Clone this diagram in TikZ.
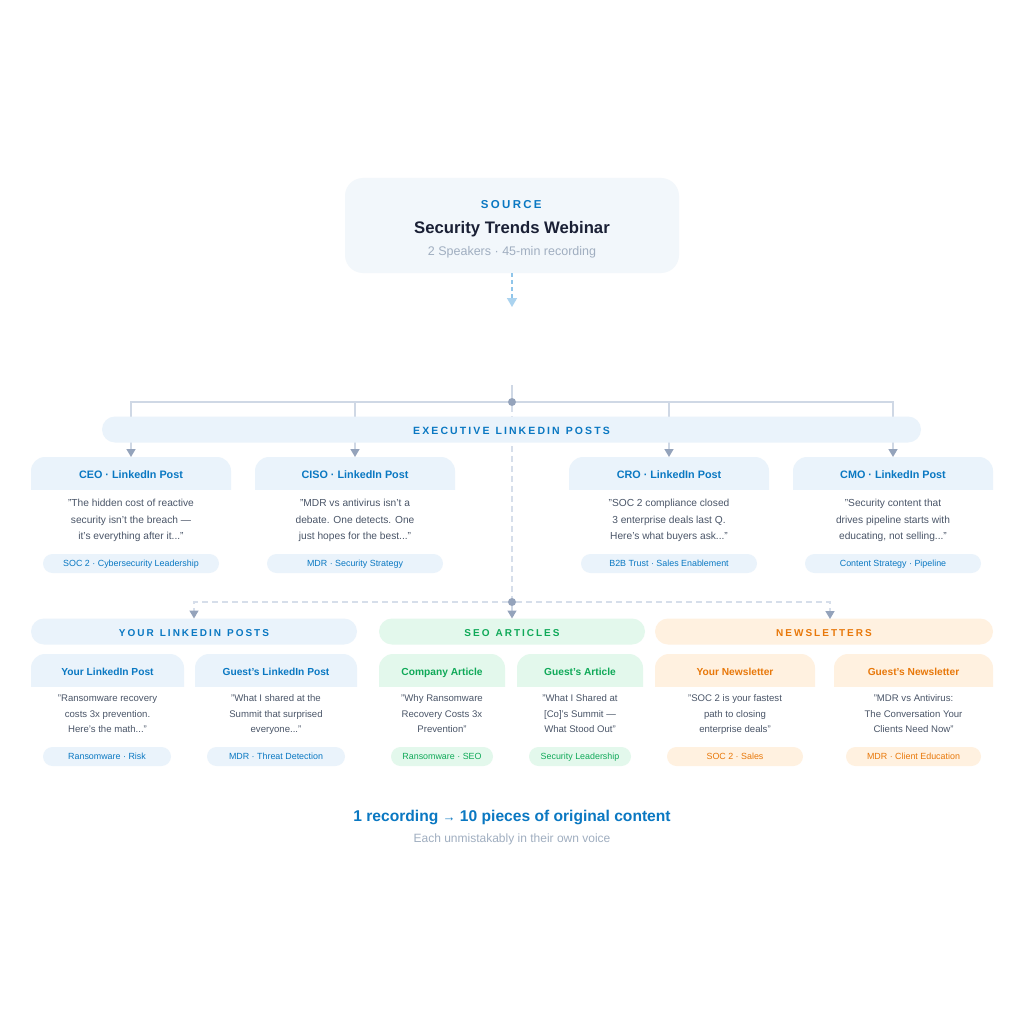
\documentclass[tikz,border=0pt]{standalone}
\usepackage{fontspec}
\setmainfont{Liberation Sans}
\newfontfamily\spaced[LetterSpace=20]{Liberation Sans}
\usetikzlibrary{arrows.meta}
\definecolor{cblue}{HTML}{0A78C2}
\definecolor{cbluebg}{HTML}{EAF3FB}
\definecolor{cgreen}{HTML}{0FA958}
\definecolor{cgreenbg}{HTML}{E3F8EC}
\definecolor{corange}{HTML}{E8780A}
\definecolor{corangebg}{HTML}{FFF1E0}
\definecolor{csrc}{HTML}{F2F7FB}
\definecolor{cdark}{HTML}{1A2035}
\definecolor{cmuted}{HTML}{A0AEC0}
\definecolor{cbody}{HTML}{4A5568}
\definecolor{cline}{HTML}{CFD8E5}
\definecolor{cdash}{HTML}{D6DEEA}
\definecolor{ctip}{HTML}{94A3BB}
\definecolor{csrcline}{HTML}{8FC5EA}
\pgfdeclarelayer{back}
\pgfsetlayers{back,main}
\newcommand{\wsp}{\hspace{6pt}}
\tikzset{
  x=1pt,y=-1pt,
  basetext/.style={inner sep=0pt,outer sep=0pt,align=center},
  band/.style={basetext,rounded corners=13pt,minimum height=26pt,text height=10pt,text depth=0pt,font=\fontsize{10.5}{13}\selectfont\spaced\bfseries},
  sectionband/.style={band,font=\fontsize{10}{13}\selectfont\spaced\bfseries},
  title/.style={basetext,text height=8pt,text depth=2pt},
  bodytext/.style={basetext,anchor=north,text=cbody},
  tagpill/.style={basetext,rounded corners=9.5pt,minimum height=19pt,text height=7pt,text depth=2pt,font=\fontsize{8.9}{11}\selectfont},
  solidlink/.style={draw=cline,line width=1.5pt},
  dashlink/.style={draw=cdash,line width=1.5pt,dash pattern=on 6pt off 4pt},
  tipped/.style={-{Triangle[length=8pt,width=9pt,color=ctip]}},
  hubdot/.style={circle,fill=ctip,inner sep=0pt,minimum size=8pt},
}
\newcommand{\mycard}[8]{%
  % name, x1, x2, title, body, tag x1, tag x2, tag
  \fill[\cbg,rounded corners=14pt] (#2,\htop) rectangle (#3,\hbot+16);
  \fill[white] (#2-0.5,\hbot) rectangle (#3+0.5,\hbot+17);
  \fill[\cbg] (#2,\htop+15) rectangle (#3,\hbot);
  \node[title,text=\cfg,font=\titlefont] (#1) at ({(#2+#3)/2},\htxt) {#4};
  \coordinate (#1top) at ({(#2+#3)/2},\htop);
  \node[bodytext,font=\bodyfont] (#1body) at ({(#2+#3)/2},\bodyy) {\rule{0pt}{10pt}#5};
  \pgfmathsetlengthmacro{\tagw}{(#7-#6)*1pt}
  \node[tagpill,fill=\cbg,text=\cfg,minimum width=\tagw] (#1tag) at ({(#6+#7)/2},\tagy) {#8};
}
\begin{document}
\begin{tikzpicture}
\useasboundingbox (0,0) rectangle (1024,1024);
\begin{pgfonlayer}{back}
\fill[white] (0,0) rectangle (1024,1024);
\end{pgfonlayer}

% source
\node[basetext,fill=csrc,rounded corners=18pt,minimum width=334pt,minimum height=95pt] (source) at (512,225.5) {};
\node[basetext,text=cblue,font=\fontsize{11.5}{14}\selectfont\spaced\bfseries] (srclabel) at (511.3,204.5) {SOURCE};
\node[basetext,text=cdark,font=\fontsize{16.7}{21}\selectfont\bfseries] (srctitle) at (512,229.4) {Security Trends Webinar};
\node[basetext,text=cmuted,font=\fontsize{12.5}{15}\selectfont] (srcsub) at (512,252) {2 Speakers · 45-min recording};
\coordinate (srcend) at (512,307);
\draw[draw=csrcline,line width=1.5pt,dash pattern=on 4pt off 3pt,-{Triangle[length=9pt,width=10pt,color=csrcline!75]}] (source.south) -- (srcend);

% executive band
\node[band,fill=cbluebg,text=cblue,minimum width=819pt] (execband) at (511.5,429.5) {EXECUTIVE\wsp LINKEDIN\wsp POSTS};

% executive cards
\def\htop{457}\def\hbot{490}\def\htxt{475}\def\bodyy{496.5}\def\tagy{563.5}
\def\bodyfont{\fontsize{10.2}{16.5}\selectfont}
\def\titlefont{\fontsize{10.8}{13}\selectfont\bfseries}
\def\cbg{cbluebg}\def\cfg{cblue}
\mycard{ceo}{31}{231}{CEO · LinkedIn Post}{"The hidden cost of reactive\\security isn't the breach —\\it's everything after it..."}{43}{219}{SOC 2 · Cybersecurity Leadership}
\mycard{ciso}{255}{455}{CISO · LinkedIn Post}{"MDR vs antivirus isn't a\\debate. One detects. One\\just hopes for the best..."}{267}{443}{MDR · Security Strategy}
\mycard{cro}{569}{769}{CRO · LinkedIn Post}{"SOC 2 compliance closed\\3 enterprise deals last Q.\\Here's what buyers ask..."}{581}{757}{B2B Trust · Sales Enablement}
\mycard{cmo}{793}{993}{CMO · LinkedIn Post}{"Security content that\\drives pipeline starts with\\educating, not selling..."}{805}{981}{Content Strategy · Pipeline}

% section bands
\node[sectionband,fill=cbluebg,text=cblue,minimum width=326pt] (yourband) at (194,631.5) {YOUR\wsp LINKEDIN\wsp POSTS};
\node[sectionband,fill=cgreenbg,text=cgreen,minimum width=266pt] (seoband) at (512,631.5) {SEO\wsp ARTICLES};
\node[sectionband,fill=corangebg,text=corange,minimum width=338pt] (newsband) at (824,631.5) {NEWSLETTERS};

% lower cards
\def\htop{654}\def\hbot{687}\def\htxt{672}\def\bodyy{691.5}\def\tagy{756.5}
\def\bodyfont{\fontsize{9.6}{15.5}\selectfont}
\def\titlefont{\fontsize{10.2}{13}\selectfont\bfseries}
\def\cbg{cbluebg}\def\cfg{cblue}
\mycard{yourpost}{31}{184}{Your LinkedIn Post}{"Ransomware recovery\\costs 3x prevention.\\Here's the math..."}{43}{171}{Ransomware · Risk}
\mycard{guestpost}{195}{357}{Guest's LinkedIn Post}{"What I shared at the\\Summit that surprised\\everyone..."}{207}{345}{MDR · Threat Detection}
\def\cbg{cgreenbg}\def\cfg{cgreen}
\mycard{company}{379}{505}{Company Article}{"Why Ransomware\\Recovery Costs 3x\\Prevention"}{391}{493}{Ransomware · SEO}
\mycard{guestart}{517}{643}{Guest's Article}{"What I Shared at\\{[Co]}'s Summit —\\What Stood Out"}{529}{631}{Security Leadership}
\def\cbg{corangebg}\def\cfg{corange}
\mycard{yournews}{655}{815}{Your Newsletter}{"SOC 2 is your fastest\\path to closing\\enterprise deals"}{667}{803}{SOC 2 · Sales}
\mycard{guestnews}{834}{993}{Guest's Newsletter}{"MDR vs Antivirus:\\The Conversation Your\\Clients Need Now"}{846}{981}{MDR · Client Education}

% footer
\node[basetext,text=cblue,font=\fontsize{15.6}{19}\selectfont\bfseries] (foot) at (512,817.2) {1 recording {\fontsize{13}{19}\selectfont\mdseries →} 10 pieces of original content};
\node[basetext,text=cmuted,font=\fontsize{12}{15}\selectfont] (footsub) at (512,839) {Each unmistakably in their own voice};

% connectors
\node[hubdot] (hubA) at (512,402) {};
\node[hubdot] (hubB) at (512,602) {};
\coordinate (hubAin) at (512,385);
\coordinate (yourstub) at (194,611);
\coordinate (newsstub) at (830,611);
\coordinate (newstip) at (830,619);
\begin{pgfonlayer}{back}
\draw[solidlink] (hubAin) -- (hubA);
\draw[dashlink] (hubA) -- (hubB);
\draw[solidlink,tipped] (hubA) -| (ceotop);
\draw[solidlink,tipped] (hubA) -| (cisotop);
\draw[solidlink,tipped] (hubA) -| (crotop);
\draw[solidlink,tipped] (hubA) -| (cmotop);
\draw[dashlink] (hubB) -| (yourstub);
\draw[dashlink] (hubB) -| (newsstub);
\end{pgfonlayer}
\draw[solidlink,tipped] (yourstub) -- (yourband.north);
\draw[solidlink,tipped] (hubB) -- (seoband.north);
\draw[solidlink,tipped] (newsstub) -- (newstip);
\end{tikzpicture}
\end{document}
